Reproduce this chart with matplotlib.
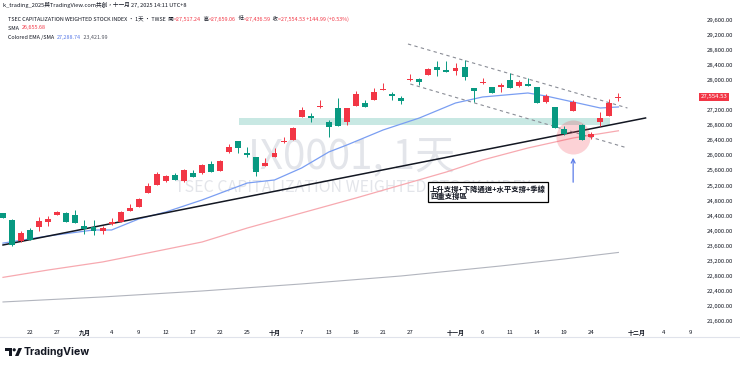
import matplotlib.pyplot as plt
from matplotlib.patches import Rectangle, Circle, Polygon

plt.rcParams['font.family'] = ['Noto Sans CJK TC', 'DejaVu Sans']

W, H = 740, 367

# daily candles, Aug 19 .. Nov 27 (Taiwan colours: red = up, green = down)
opens = [24471, 24285, 23727, 24019, 24099, 24232, 24418, 24471, 24418, 24125,
         24099, 23993, 24179, 24232, 24524, 24631, 25003, 25215, 25321, 25481,
         25321, 25534, 25534, 25773, 25587, 26092, 26384, 26065, 25959, 25720,
         25959, 26358, 26411, 27022, 27049, 27280, 26889, 27261, 26889, 27314,
         27394, 27474, 27735, 27633, 27527, 28000, 28032, 28138, 28351, 28271,
         28245, 28351, 27793, 27920, 27819, 27819, 28005, 27846, 27899, 27819,
         27421, 27288, 26703, 27182, 26809, 26490, 26889, 27049, 27517.24]
highs = [24480, 24300, 23993, 24072, 24365, 24391, 24524, 24498, 24550, 24285,
         24285, 24125, 24338, 24524, 24710, 24869, 25268, 25561, 25480, 25534,
         25640, 25614, 25770, 25853, 25879, 26304, 26384, 26225, 25959, 25932,
         26198, 26490, 26756, 27288, 27128, 27474, 26942, 27527, 27261, 27713,
         27474, 27793, 27926, 27687, 27580, 28165, 28059, 28324, 28510, 28510,
         28457, 28537, 27793, 28059, 27830, 27926, 28191, 28005, 28059, 27819,
         27633, 27288, 26783, 27474, 26836, 26623, 27155, 27500, 27659.06]
lows = [24330, 23594, 23700, 23740, 23993, 24125, 24410, 24220, 24200, 23913,
        23886, 23913, 24150, 24232, 24520, 24631, 25003, 25215, 25300, 25348,
        25300, 25428, 25510, 25561, 25587, 26065, 26065, 25959, 25455, 25720,
        25959, 26331, 26411, 27022, 26889, 27261, 26490, 26783, 26809, 27314,
        27288, 27474, 27730, 27474, 27368, 27979, 27873, 28138, 28112, 28218,
        28138, 28005, 27420, 27899, 27650, 27687, 27793, 27819, 27846, 27394,
        27400, 26730, 26543, 27182, 26411, 26437, 26783, 27049, 27436.59]
closes = [24338, 23621, 23939, 23753, 24258, 24311, 24498, 24232, 24205, 24046,
          23993, 24072, 24232, 24498, 24604, 24843, 25189, 25507, 25454, 25348,
          25614, 25428, 25747, 25561, 25853, 26225, 26198, 26012, 25561, 25800,
          26065, 26384, 26730, 27208, 26995, 27288, 26756, 26783, 27261, 27633,
          27288, 27687, 27745, 27580, 27447, 28010, 27952, 28298, 28271, 28218,
          28324, 28085, 27713, 27930, 27660, 27873, 27793, 27952, 27846, 27394,
          27580, 26730, 26570, 27421, 26411, 26570, 26995, 27394, 27554.53]

# moving averages read at a few bars
ema_idx = [0, 5, 10, 12, 15, 18, 22, 27, 30, 33, 36, 38, 42, 46, 50, 53, 58, 60, 63, 66, 68]
ema_val = [23670, 23860, 24019, 24019, 24312, 24498, 24817, 25268, 25348, 25667,
           26092, 26278, 26677, 26995, 27394, 27554, 27660, 27580, 27421, 27261, 27288.74]
sma_idx = [0, 5, 11, 16, 22, 27, 33, 39, 44, 49, 53, 58, 63, 68]
sma_val = [22760, 22956, 23169, 23408, 23700, 24072, 24471, 24869, 25215, 25561,
           25880, 26198, 26464, 26655.68]
long_idx = [0, 11, 22, 33, 44, 55, 62, 68]
long_val = [22106, 22239, 22398, 22585, 22797, 23063, 23249, 23421.99]

# drawings
trend = ([0, 71], [23620, 26996])
chan_top = ([44.75, 69], [28962, 27261])
chan_bot = ([45, 69], [27899, 26198])
zone = (26.1, 67.1, 26810, 26996)

tick_pos = [3, 6, 9, 12, 15, 18, 21, 24, 27, 30, 33, 36, 39, 42, 45, 50, 53, 56, 59, 62, 65, 70, 73, 76]
tick_lab = ['22', '27', '九月', '4', '9', '12', '17', '22', '25', '十月', '7', '13', '16', '21',
            '27', '十一月', '6', '11', '14', '19', '24', '十二月', '4', '9']
months = {'九月', '十月', '十一月', '十二月'}
# 27,600 is hidden behind the last-price tag in the reference
price_ticks = [p for p in range(21600, 29601, 400) if p != 27600]

RED, GREEN = '#f23645', '#089981'
TXT = '#131722'

# pixel mapping of the reference (bar 0 at x=3, 9.05 px per bar; 29600 at y=20, 21600 at y=321)
px_per_bar = 9.05
y_per_price = (321 - 20) / 8000.0
def price_at(ypx):
    return 29600 - (ypx - 20) / y_per_price

fig = plt.figure(figsize=(W / 100, H / 100), dpi=100)
fig.patch.set_facecolor('white')
ax = fig.add_axes([0, 1 - 326 / H, 697 / W, (326 - 12) / H])
ax.set_xlim(-3 / px_per_bar, 694 / px_per_bar)
ax.set_ylim(price_at(326), price_at(12))
for s in ax.spines.values():
    s.set_visible(False)

# watermark
ax.text(0.505, 0.538, 'IX0001, 1天', transform=ax.transAxes, fontsize=29, color='#e3e5ea',
        ha='center', va='center', zorder=0)
ax.text(0.507, 0.44, 'TSEC CAPITALIZATION WEIGHTED STOCK INDEX', transform=ax.transAxes,
        fontsize=11.5, color='#e3e5ea', ha='center', va='center', zorder=0)

# support zone
ax.add_patch(Rectangle((zone[0], zone[2]), zone[1] - zone[0], zone[3] - zone[2],
                       color=GREEN, alpha=0.22, lw=0, zorder=1))

ax.plot(long_idx, long_val, color='#b2b5be', lw=0.8, zorder=2)
ax.plot(sma_idx, sma_val, color='#f7a9b0', lw=0.9, zorder=2)
ax.plot(ema_idx, ema_val, color='#7a9ef2', lw=0.9, zorder=2)
ax.plot(*trend, color='#131722', lw=1.1, zorder=3)
ax.plot(*chan_top, color='#8a8d96', lw=0.8, ls=(0, (3, 3)), zorder=3)
ax.plot(*chan_bot, color='#8a8d96', lw=0.8, ls=(0, (3, 3)), zorder=3)

ax.scatter([63], [26491], s=600, color=RED, alpha=0.22, lw=0, zorder=3)

# candles
for i, (o, h, l, c) in enumerate(zip(opens, highs, lows, closes)):
    col = RED if c >= o else GREEN
    ax.vlines(i, l, h, color=col, lw=0.7, zorder=4)
    body = max(abs(c - o), 25)
    ax.bar(i, body, bottom=min(o, c), width=0.66, color=col, lw=0, zorder=5)

ax.annotate('', xy=(63, 26012), xytext=(63, 25215),
            arrowprops=dict(arrowstyle='->', color='#5b7ce8', lw=0.9, mutation_scale=7), zorder=6)
ax.text(47.2, price_at(192.5), '上升支撐+下降通道+水平支撐+季線\n四重支撐區', fontsize=5.3,
        fontweight='bold', color=TXT, ha='left', va='center', linespacing=1.05, zorder=7,
        bbox=dict(boxstyle='square,pad=0.3', fc='white', ec='black', lw=0.9))

# axes ticks
ax.yaxis.tick_right()
ax.set_yticks(price_ticks)
ax.set_yticklabels([f'{p:,.2f}' for p in price_ticks], fontsize=4.3, color=TXT)
ax.set_xticks(tick_pos)
ax.set_xticklabels(tick_lab, fontsize=4.3, color=TXT)
for t in ax.get_xticklabels():
    t.set_va('center_baseline')
    if t.get_text() in months:
        t.set_fontweight('bold')
ax.tick_params(axis='both', length=0)
ax.tick_params(axis='y', pad=7)
ax.tick_params(axis='x', pad=4.5)

ax.text(1.005, closes[-1], f'{closes[-1]:,.2f}', transform=ax.get_yaxis_transform(),
        fontsize=4.3, color='white', ha='left', va='center', zorder=8,
        bbox=dict(boxstyle='square,pad=0.25', fc=RED, ec='none'))

# overlay for header / footer in pixel coords
deco = fig.add_axes([0, 0, 1, 1], facecolor='none')
deco.set_xlim(0, W)
deco.set_ylim(H, 0)
deco.axis('off')


def text_row(x, y, parts, size=3.9):
    t = deco.text(x, y, parts[0][0], color=parts[0][1], fontsize=size, ha='left', va='center')
    for s, c in parts[1:]:
        t = deco.annotate(s, xy=(1, 0.5), xycoords=t, color=c, fontsize=size, ha='left', va='center')


text_row(3, 5, [('k_trading_2025與TradingView.com共創，十一月 27, 2025 14:11 UTC+8', TXT)], size=4.1)
text_row(8, 19, [('TSEC CAPITALIZATION WEIGHTED STOCK INDEX · 1天 · TWSE  開', TXT),
                 ('=27,517.24', RED), ('  高', TXT), ('=27,659.06', RED), ('  低', TXT),
                 ('=27,436.59', RED), ('  收', TXT), ('=27,554.53 +144.99 (+0.53%)', RED)])
text_row(8, 28, [('SMA  ', TXT), ('26,655.68', RED)])
text_row(8, 37, [('Colored EMA /SMA  ', TXT), ('27,288.74', '#5b7ce8'), ('  23,421.99', '#50535e')])

deco.plot([0, W], [337, 337], color='#e0e3eb', lw=0.8)

# TradingView logo
deco.add_patch(Rectangle((5, 348), 7, 3, color=TXT, lw=0))
deco.add_patch(Rectangle((9, 348), 3, 8, color=TXT, lw=0))
deco.add_patch(Circle((14.2, 349.8), 1.6, color=TXT, lw=0))
deco.add_patch(Polygon([(15, 356), (18.5, 348), (22, 348), (18.5, 356)], color=TXT, lw=0))
deco.text(24, 352, 'TradingView', fontsize=7.6, fontweight='bold', color=TXT, ha='left', va='center',
          family=['Inter', 'DejaVu Sans'])

fig.savefig('out.png', dpi=100, facecolor='white')
